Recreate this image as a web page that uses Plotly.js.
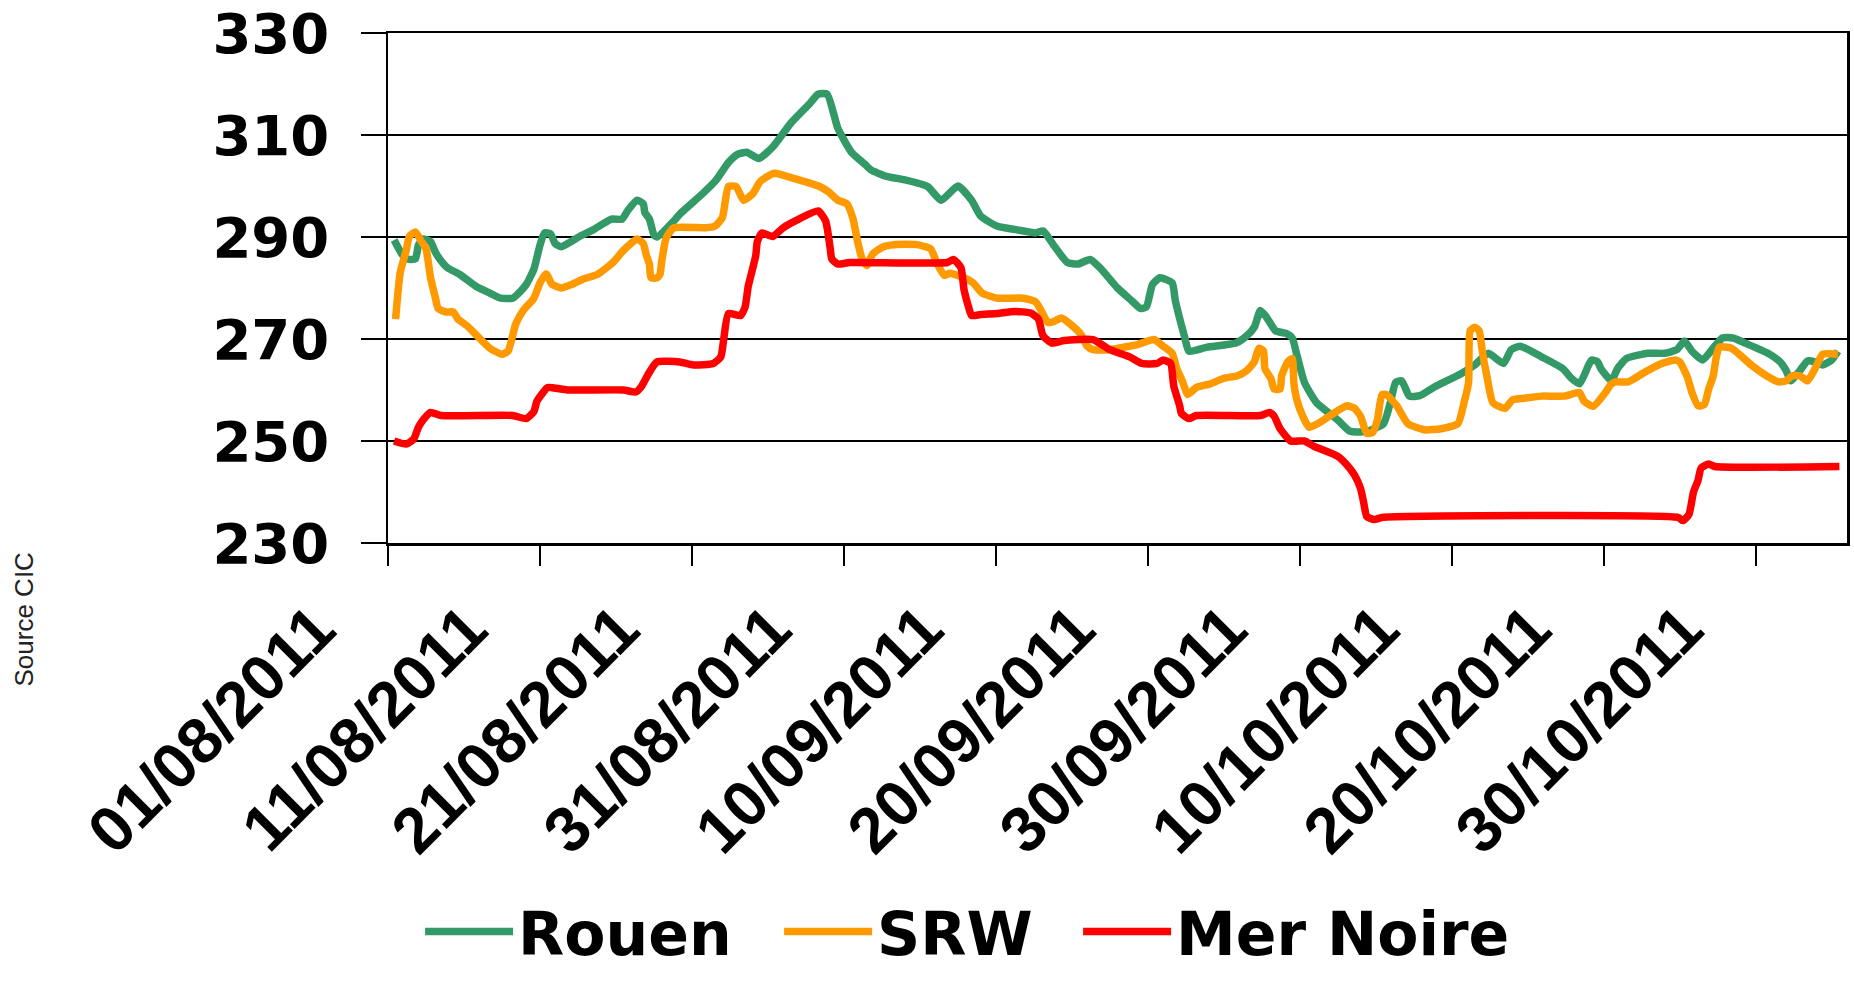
<!DOCTYPE html>
<html>
<head>
<meta charset="utf-8">
<script src="https://cdn.plot.ly/plotly-3.0.1.min.js"></script>
<style>
  html, body { margin: 0; padding: 0; background: #fff; }
  #chart { width: 1854px; height: 985px; }
</style>
</head>
<body>
<div id="chart"></div>
<script>
// days after 01/08/2011
var rouenDays = [0.4,0.9,1.2,1.8,2.0,2.3,2.8,3.1,3.4,3.9,4.7,5.8,6.7,7.4,8.2,8.7,9.1,9.6,10.0,10.3,
  10.7,11.0,11.4,12.6,13.5,14.7,15.4,15.8,16.4,16.8,16.9,17.2,17.5,17.7,18.8,19.2,20.7,21.6,22.4,23.0,
  23.6,24.4,25.3,26.5,27.7,28.3,28.9,29.6,30.5,31.4,31.8,32.8,34.0,35.5,36.4,37.5,38.4,39.0,40.1,41.4,
  42.6,43.1,43.8,44.7,45.4,46.2,46.9,48.0,48.9,49.5,49.9,50.3,50.8,51.6,51.8,52.4,52.7,53.9,55.8,56.5,
  57.0,57.4,57.8,58.4,59.1,59.5,59.8,60.3,61.1,62.5,63.3,64.4,65.5,66.0,66.3,66.7,67.2,67.9,68.8,70.6,
  71.5,72.4,73.4,73.9,74.5,75.9,77.3,77.9,78.4,79.0,79.2,79.6,79.8,80.5,80.9,81.5,82.9,84.0,84.8,85.3,
  85.8,86.5,87.3,87.8,88.5,89.3,90.8,91.6,92.0,92.3,92.9,93.4,93.9,94.4,95.0,95.4];
var rouen = [289.4,286.7,285.7,285.7,288.4,289.6,289.1,287.1,285.7,284.0,282.7,280.3,279.0,278.0,278.0,279.3,280.7,283.7,288.4,290.8,
  290.6,288.7,288.1,290.1,291.4,293.5,293.5,295.3,297.2,296.5,294.8,293.5,290.4,290.0,293.1,294.5,298.5,301.2,304.6,306.2,
  306.6,305.4,307.6,312.3,316.0,318.0,318.0,311.3,306.6,304.2,303.1,301.9,301.2,299.9,297.2,300.0,297.2,294.1,292.1,291.4,
  290.8,291.2,288.4,285.0,284.7,285.6,283.8,280.0,277.6,276.0,276.3,280.7,282.0,281.0,277.6,270.6,267.6,268.4,269.2,270.6,
  272.3,275.6,274.3,271.6,271.1,270.2,266.9,261.5,257.5,254.1,251.9,251.9,253.4,258.1,261.5,261.8,258.8,258.9,260.5,263.2,
  264.9,267.2,265.2,267.9,268.6,266.5,264.2,262.2,261.2,264.9,265.9,265.5,264.2,261.8,264.2,266.2,267.2,267.2,267.9,269.6,
  267.6,265.9,268.6,270.2,270.2,269.2,267.2,265.5,263.8,261.8,263.8,265.7,265.5,264.9,265.9,267.6];

var srwDays = [0.5,0.8,1.2,1.4,1.8,2.2,2.5,2.8,3.1,3.3,3.8,4.3,4.6,5.2,5.8,6.7,7.5,7.9,8.4,8.9,
  9.6,10.0,10.4,10.8,11.4,12.1,12.9,13.8,14.8,15.5,16.4,16.8,17.0,17.2,17.3,17.7,17.9,18.0,18.3,18.8,
  20.9,21.5,22.0,22.4,22.9,23.4,24.0,24.5,25.4,26.7,28.4,29.0,29.6,30.2,30.6,30.9,31.2,31.5,31.9,32.6,
  33.3,34.8,35.7,36.1,36.6,37.0,37.9,38.5,39.1,40.1,41.8,42.6,42.9,43.4,43.7,44.3,44.9,45.6,46.0,46.4,
  47.5,48.8,49.3,50.4,51.0,51.6,51.9,52.3,52.6,52.8,53.2,54.1,55.0,55.9,56.5,57.0,57.3,57.6,57.7,58.1,
  58.3,58.7,58.8,59.2,59.5,59.6,59.8,60.2,60.6,61.4,62.2,63.1,63.6,64.0,64.4,64.8,65.1,65.4,65.7,66.4,
  67.1,68.2,69.3,70.4,70.8,71.1,71.2,71.5,71.8,72.0,72.3,72.7,73.5,74.0,74.8,75.9,77.4,78.4,78.7,79.3,
  80.1,80.5,80.8,81.6,82.7,83.8,84.7,85.0,85.5,85.8,86.2,86.6,86.9,87.2,87.4,87.6,88.4,89.7,90.7,91.5,
  92.0,92.4,92.9,93.4,93.9,94.4,95.4];
var srw = [273.9,283.0,287.4,290.1,291.0,289.1,287.7,282.0,278.3,276.0,275.3,275.3,273.9,272.6,270.8,268.2,267.0,267.6,272.9,275.6,
  278.0,281.0,282.8,280.7,280.0,280.7,281.8,282.7,285.0,287.4,289.6,288.7,286.4,284.7,282.0,282.0,282.7,285.0,289.8,291.8,
  291.8,292.1,293.8,299.9,299.9,297.2,298.5,300.9,302.5,301.5,299.9,298.8,297.2,296.5,293.5,289.1,285.7,284.4,286.7,288.1,
  288.5,288.5,287.7,285.0,282.5,282.9,282.0,281.0,279.0,278.0,278.0,277.3,276.0,273.3,273.3,274.1,272.9,270.9,268.6,267.9,
  267.9,268.6,268.9,269.9,268.6,267.2,264.2,261.5,259.1,259.5,260.5,261.2,262.3,262.8,263.8,265.5,268.2,267.7,264.2,262.2,
  260.2,260.2,262.8,265.5,266.2,261.5,258.1,254.8,252.7,253.8,255.4,256.9,256.4,254.8,251.5,251.7,254.1,259.1,259.1,256.8,
  253.4,252.2,252.4,253.4,257.5,261.5,271.6,272.3,271.6,267.6,262.8,257.5,256.4,258.1,258.4,258.8,258.8,259.5,257.8,256.8,
  259.5,261.2,261.6,261.6,263.5,265.2,265.9,265.5,262.5,259.5,256.9,257.1,260.2,262.8,266.5,268.4,268.2,264.9,262.8,261.6,
  261.8,262.8,262.8,261.8,264.2,267.0,267.0];

var merNoireDays = [0.4,1.2,1.7,2.0,2.3,2.8,3.5,8.2,9.1,9.6,9.8,10.2,10.5,11.8,15.5,16.3,16.7,17.2,17.7,19.2,
  20.1,21.4,21.9,22.1,22.4,23.2,23.5,23.7,23.9,24.2,24.3,24.6,25.3,26.0,26.9,28.3,28.8,29.1,29.2,29.6,
  30.4,36.8,37.2,37.7,37.9,38.2,38.4,39.0,40.1,41.2,42.3,42.8,43.1,43.7,44.5,46.4,47.5,48.8,49.6,50.6,
  51.0,51.5,51.7,52.1,52.2,52.7,53.2,57.4,58.0,58.3,58.7,59.4,60.3,60.9,62.5,63.1,63.6,64.0,64.2,64.4,
  64.9,65.4,84.9,85.2,85.6,85.9,86.2,86.4,86.9,87.3,95.5];
var merNoire = [250.0,249.4,250.4,252.7,254.1,255.6,255.0,255.0,254.4,255.8,257.8,259.5,260.5,260.0,260.0,259.6,260.8,263.5,265.5,265.5,
  264.9,265.2,266.5,270.2,275.0,274.6,276.3,280.3,282.7,286.4,289.1,290.8,290.1,291.8,293.3,295.1,293.1,287.7,285.7,284.7,
  285.0,285.0,285.6,284.0,279.7,276.3,274.6,274.8,275.0,275.4,275.1,273.9,270.6,269.2,269.7,269.9,267.9,266.5,265.2,265.2,
  265.9,265.2,260.8,256.8,255.4,254.4,255.0,255.0,255.6,254.9,252.4,250.0,250.0,249.0,247.0,245.3,243.3,240.6,237.9,235.2,
  234.6,235.0,235.0,234.4,235.6,240.0,242.3,244.7,245.5,245.0,245.0];

var seriesNames = ['Rouen', 'SRW', 'Mer Noire'];
var seriesColors = ['#339966', '#FF9900', '#FF0000'];
var tickStart = '2011-08-01';
var tickStepDays = 10;
var xEndDay = 96;
var yTicks = [230, 250, 270, 290, 310, 330];

function toDate(d) {
  var ms = Date.UTC(2011, 7, 1) + d * 86400000;
  return new Date(ms).toISOString().slice(0, 19).replace('T', ' ');
}

var daySets = [rouenDays, srwDays, merNoireDays];
var valSets = [rouen, srw, merNoire];
var legendWidths = [256, 196, 330];

var data = seriesNames.map(function(name, i) {
  return {
    x: daySets[i].map(toDate),
    y: valSets[i],
    type: 'scatter',
    mode: 'lines',
    name: name,
    legendwidth: legendWidths[i],
    line: { color: seriesColors[i], width: 7.5, shape: 'spline', smoothing: 0.5 }
  };
});

var fam = 'Liberation Sans, Arial, sans-serif';
var wideFam = 'DejaVu Sans, Verdana, sans-serif';

var layout = {
  width: 1854,
  height: 985,
  margin: { l: 388, r: 7, t: 33, b: 423 },
  paper_bgcolor: '#fff',
  plot_bgcolor: '#fff',
  showlegend: true,
  legend: {
    orientation: 'h',
    x: 0.022, xanchor: 'left',
    y: -0.762, yanchor: 'middle',
    font: { family: wideFam, size: 60, color: '#000', weight: 'bold' },
    itemwidth: 88,
    traceorder: 'normal'
  },
  xaxis: {
    type: 'date',
    range: [toDate(0), toDate(xEndDay)],
    tick0: tickStart,
    dtick: tickStepDays * 86400000,
    tickformat: '%d/%m/%Y',
    tickangle: -45,
    tickfont: { family: fam, size: 64, color: '#000', weight: 'bold' },
    ticks: 'outside',
    ticklen: 20,
    tickwidth: 2,
    tickcolor: '#000',
    showline: true,
    linecolor: '#000',
    linewidth: 2.5,
    mirror: true,
    showgrid: false,
    zeroline: false,
    ticklabelshift: -72,
    ticklabelstandoff: 0
  },
  yaxis: {
    range: [230, 330],
    tickvals: yTicks,
    tickfont: { family: wideFam, size: 56, color: '#000', weight: 'bold' },
    ticks: 'outside',
    ticklen: 25,
    tickwidth: 2,
    tickcolor: '#000',
    showline: true,
    linecolor: '#000',
    linewidth: 2.5,
    mirror: true,
    showgrid: true,
    gridcolor: '#000',
    gridwidth: 1.5,
    zeroline: false,
    ticklabelstandoff: 20,
    ticklabeloverflow: 'allow'
  },
  annotations: [{
    text: 'Source CIC',
    xref: 'paper', yref: 'paper',
    x: -0.2495, y: -0.15,
    xanchor: 'center', yanchor: 'middle',
    textangle: -90,
    showarrow: false,
    font: { family: fam, size: 26, color: '#222' }
  }]
};

Plotly.newPlot('chart', data, layout, { displayModeBar: false, staticPlot: true });
</script>
</body>
</html>
